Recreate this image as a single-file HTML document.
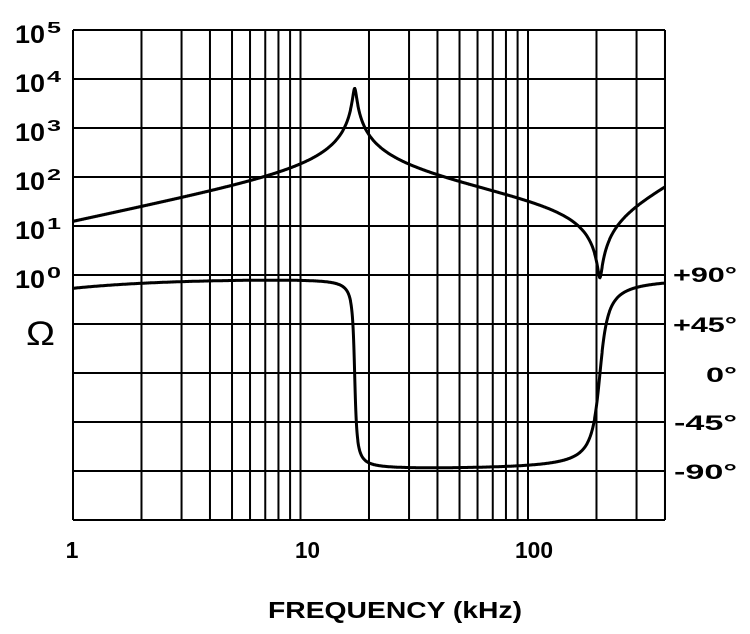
<!DOCTYPE html>
<html><head><meta charset="utf-8"><style>
body{margin:0;background:#fff;}
svg{display:block;font-family:"Liberation Sans",Arial,sans-serif;font-weight:bold;}
</style></head><body>
<svg id="s" width="750" height="634" viewBox="0 0 750 634" xmlns="http://www.w3.org/2000/svg">
<g id="grid" stroke="#000" stroke-width="2" fill="none"></g>
<path id="mag" fill="none" stroke="#000" stroke-width="3"/>
<path id="ph" fill="none" stroke="#000" stroke-width="3"/>
<g fill="#000" id="ylab"></g>
<text x="26" y="345" font-weight="normal" font-size="34" textLength="29" lengthAdjust="spacingAndGlyphs">Ω</text>
<g font-size="21" fill="#000">
<text x="673" y="282" textLength="64" lengthAdjust="spacingAndGlyphs">+90°</text>
<text x="673" y="332" textLength="64" lengthAdjust="spacingAndGlyphs">+45°</text>
<text x="706" y="382" textLength="31" lengthAdjust="spacingAndGlyphs">0°</text>
<text x="674" y="430" textLength="63" lengthAdjust="spacingAndGlyphs">-45°</text>
<text x="674" y="479" textLength="63" lengthAdjust="spacingAndGlyphs">-90°</text>
<text x="72" y="558" text-anchor="middle" font-size="23">1</text>
<text x="295" y="558" font-size="23" textLength="25" lengthAdjust="spacingAndGlyphs">10</text>
<text x="515" y="558" font-size="23" textLength="38" lengthAdjust="spacingAndGlyphs">100</text>
<text x="268" y="618" font-size="23" textLength="254" lengthAdjust="spacingAndGlyphs">FREQUENCY  (kHz)</text>
</g>
</svg>
<script>
var X0=73,DEC=227.5,R=665,T=30,B=520;
function fx(f){return X0+DEC*Math.log10(f);}
var g=document.getElementById('grid'),h='';
[1,10,100].forEach(function(d){for(var k=1;k<10;k++){var x=fx(d*k);if(x<=R+1)h+='<line x1="'+x+'" y1="'+T+'" x2="'+x+'" y2="'+B+'"/>';}});
h+='<line x1="'+R+'" y1="'+T+'" x2="'+R+'" y2="'+B+'"/>';
for(var i=0;i<=10;i++){var y=T+i*49;h+='<line x1="'+X0+'" y1="'+y+'" x2="'+R+'" y2="'+y+'"/>';}
g.innerHTML=h;
var yl='';
for(var e=0;e<=5;e++){var y=288-e*49;
 yl+='<text x="15" y="'+y+'" font-size="25" textLength="30" lengthAdjust="spacingAndGlyphs">10</text><text x="47" y="'+(y-10)+'" font-size="16" textLength="14" lengthAdjust="spacingAndGlyphs">'+e+'</text>';}
document.getElementById('ylab').innerHTML=yl;
var K=13,f1=17.3,Q1=30,f2=207,Q2=300;
function Z(f,Rs){
 var nr=1-(f/f2)*(f/f2),ni=f/(Q2*f2);
 var ar=-K*f*ni,ai=K*f*nr;
 var dr=1-(f/f1)*(f/f1),di=f/(Q1*f1);
 var den=dr*dr+di*di;
 return [(ar*dr+ai*di)/den+Rs,(ai*dr-ar*di)/den];
}
var dm='',dp='';
for(var i=0;i<=3000;i++){
 var x=X0+(R-X0)*i/3000,f=Math.pow(10,(x-X0)/DEC);
 var a=Z(f,0.6),m=Math.sqrt(a[0]*a[0]+a[1]*a[1]);
 var b=Z(f,2.2),p=Math.atan2(b[1],b[0])*180/Math.PI;
 m*=(1+(f/330)*(f/330));
 var ym=276-49*Math.log10(m); if(ym<T)ym=T;
 var yp=374-p*(49/45)*0.98;
 dm+=(i?'L':'M')+x.toFixed(1)+' '+ym.toFixed(1);
 dp+=(i?'L':'M')+x.toFixed(1)+' '+yp.toFixed(1);
}
document.getElementById('mag').setAttribute('d',dm);
document.getElementById('ph').setAttribute('d',dp);
</script>
</body></html>
